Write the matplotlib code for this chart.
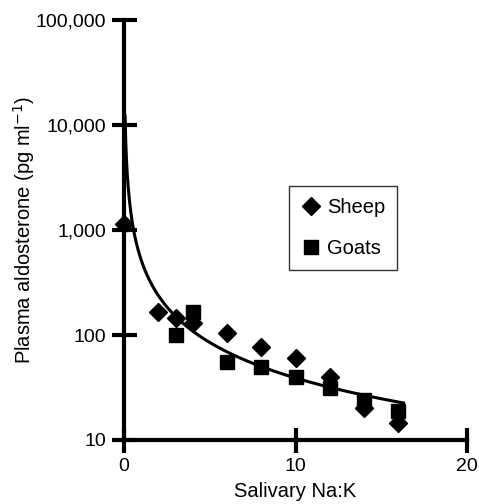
import numpy as np
import matplotlib.pyplot as plt

plt.rcParams['font.family'] = ['Liberation Sans', 'DejaVu Sans']

# Salivary Na:K vs plasma aldosterone (pg/ml)
sheep_x = [0, 2, 3, 4, 6, 8, 10, 12, 14, 16]
sheep_y = [1150, 165, 145, 130, 104, 77, 60, 40, 20, 14.5]

goats_x = [3, 4, 6, 8, 10, 12, 14, 16]
goats_y = [100, 165, 55, 50, 40, 31, 24, 19]

x_ticks = [0, 10, 20]
y_ticks = [10, 100, 1000, 10000, 100000]
y_tick_labels = ['10', '100', '1,000', '10,000', '100,000']

# power-law fit through all points with Na:K > 0
all_x = np.array(sheep_x[1:] + goats_x, dtype=float)
all_y = np.array(sheep_y[1:] + goats_y, dtype=float)
b, log_a = np.polyfit(np.log(all_x), np.log(all_y), 1)
fit_x = np.linspace(0.06, 16.3, 400)
fit_y = np.exp(log_a) * fit_x ** b

fig = plt.figure(figsize=(4.79, 5.04), dpi=100)
ax = fig.add_axes([0.259, 0.127, 0.716, 0.833])

ax.plot(fit_x, fit_y, color='black', lw=2.2, zorder=2)
ax.plot(sheep_x, sheep_y, 'D', color='black', ms=9, label='Sheep', zorder=3, clip_on=False)
ax.plot(goats_x, goats_y, 's', color='black', ms=10.5, label='Goats', zorder=3, clip_on=False)

ax.set_yscale('log')
ax.set_xlim(0, 20)
ax.set_ylim(10, 100000)
ax.set_xticks(x_ticks)
ax.set_yticks(y_ticks)
ax.set_yticklabels(y_tick_labels)
ax.minorticks_off()

for side in ['top', 'right']:
    ax.spines[side].set_visible(False)
for side in ['left', 'bottom']:
    ax.spines[side].set_linewidth(3)
ax.tick_params(direction='inout', length=18, width=3, labelsize=14, pad=4)

ax.set_xlabel('Salivary Na:K', fontsize=14.5, labelpad=5)
ax.set_ylabel('Plasma aldosterone (pg ml$^{-1}$)', fontsize=14.5, labelpad=-1)

leg = ax.legend(loc='upper left', bbox_to_anchor=(0.603, 0.631),
                bbox_transform=fig.transFigure, fontsize=14.5, fancybox=False,
                edgecolor='black', borderaxespad=0, labelspacing=1.1,
                handletextpad=0.3, handlelength=1.0, borderpad=0.6)
leg.get_frame().set_linewidth(1)

fig.savefig('out.png', dpi=100)
